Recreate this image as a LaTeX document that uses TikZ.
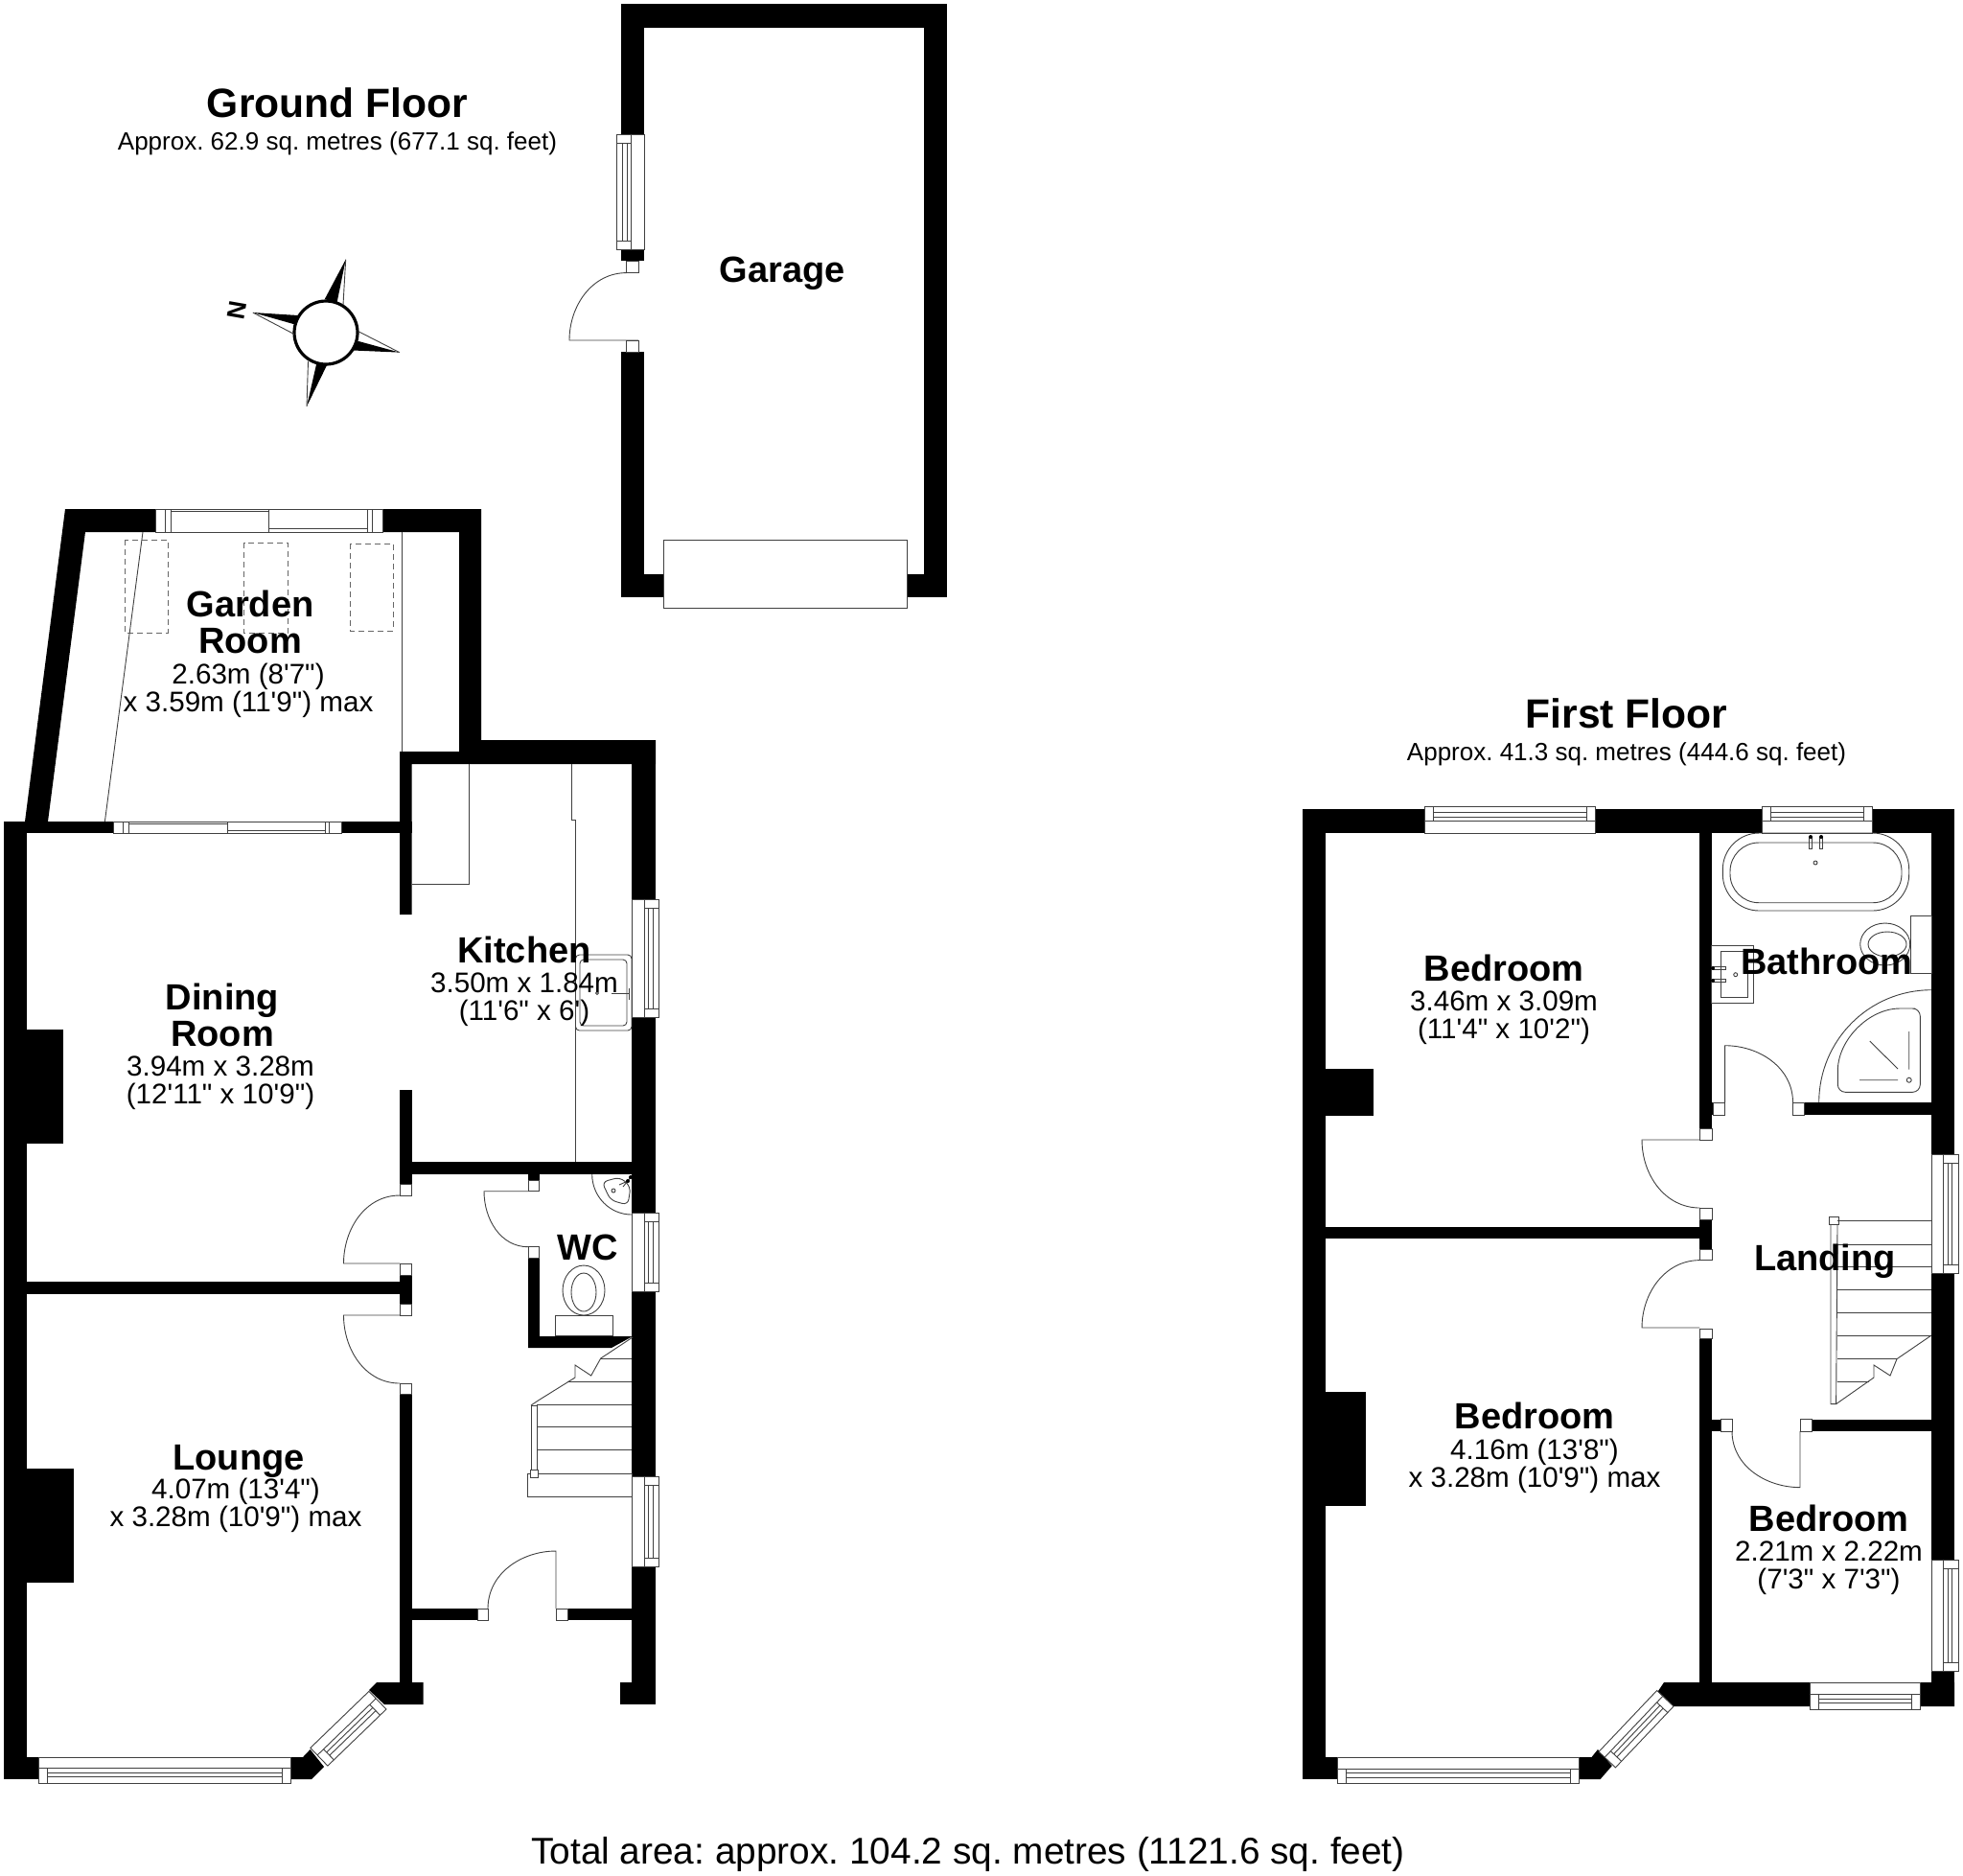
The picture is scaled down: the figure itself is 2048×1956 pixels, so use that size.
\documentclass[tikz,border=0pt]{standalone}
\usepackage{fontspec}
\usepackage{tikz}
\usetikzlibrary{positioning}
\newfontfamily\planFont{Liberation Sans}
\newcommand{\winBox}[5]{%
  \begin{scope}[shift={(#1,#2)},rotate=#3]
    \pgfmathsetmacro{\barEnd}{#4-9}
    \draw[planLine,fill=white] (0,0) rectangle (#4,#5);
    \draw[planLine] (0,15.5) -- (#4,15.5);
    \draw[planLine] (9,0) -- (9,15.5) (\barEnd,0) -- (\barEnd,15.5);
    \draw[planLine] (9,6.5) -- (\barEnd,6.5) (9,11) -- (\barEnd,11);
  \end{scope}}
\begin{document}
\begin{tikzpicture}
      [x=0.5pt,y=-0.5pt,node distance=4.6pt,
       wallFill/.style={fill=black,draw=none},
       planLine/.style={draw=black!75,line width=0.45pt},
       frameBox/.style={planLine,fill=white},
       dashBox/.style={draw=black!60,line width=0.4pt,dashed,dash pattern=on 3pt off 2pt},
       floorTitle/.style={font=\planFont\fontsize{21.3}{24}\selectfont\bfseries,inner sep=0pt},
       floorNote/.style={font=\planFont\frenchspacing\fontsize{13}{14}\selectfont,inner sep=0pt,node distance=7pt},
       roomName/.style={font=\planFont\fontsize{19}{19}\selectfont\bfseries,align=center,inner sep=0pt},
       roomDim/.style={font=\planFont\fontsize{14.8}{14.5}\selectfont,align=center,inner sep=0pt,
         execute at begin node={\vphantom{(}}}]
      \useasboundingbox (0,0) rectangle (2048,1956);
      % garage
      \fill[wallFill] (647.5,4) rectangle (988,28.6);
      \fill[wallFill] (647.5,4) rectangle (672,140);
      \fill[wallFill] (647.5,260) rectangle (672,272.4);
      \fill[wallFill] (647.5,367) rectangle (672,623);
      \fill[wallFill] (964,4) rectangle (988,623);
      \fill[wallFill] (647.5,599) rectangle (692,623);
      \fill[wallFill] (946.5,599) rectangle (988,623);
      \draw[frameBox] (692,563) rectangle (946.5,634.5);
      \winBox{643.4}{260}{90}{120}{28.6}
      \draw[frameBox] (653.6,272.4) rectangle (666,284.6);
      \draw[frameBox] (653.6,355) rectangle (666,367);
      \draw[planLine] (653.6,284.6) to[out=180,in=90] (594,355) -- (666,355);
      % compass
      \draw[black,line width=1.6pt,fill=white] (340,347) circle (33);
      \fill[black] (360.7,270.7) -- (338.8,312) -- (351.5,316) -- cycle;
      \draw[planLine] (360.7,270.7) -- (358,318);
      \fill[black] (263.8,326) -- (311,329) -- (309.7,339) -- cycle;
      \draw[planLine] (263.8,326) -- (307,348.6);
      \fill[black] (416.8,367.6) -- (373.5,355.8) -- (368.5,365.5) -- cycle;
      \draw[planLine] (416.8,367.6) -- (374.5,346);
      \fill[black] (320,424) -- (330,380.2) -- (342,379) -- cycle;
      \draw[planLine] (320,424) -- (321.5,376.8);
      \node[font=\planFont\fontsize{13}{13}\selectfont\bfseries,inner sep=0pt,rotate=80] (northMark) at (247,324) {N};
      % ground floor walls
      \fill[wallFill] (68,531) -- (162,531) -- (162,555) -- (89,555) -- (50,857) -- (26,857) -- cycle;
      \fill[wallFill] (399,531) -- (502,531) -- (502,772) -- (684,772) -- (684,797) -- (429.5,797)
        -- (429.5,954) -- (417,954) -- (417,784) -- (479,784) -- (479,555) -- (399,555) -- cycle;
      \fill[wallFill] (659,772) rectangle (684,1778);
      \fill[wallFill] (647,1755) rectangle (684,1778);
      \fill[wallFill] (3.5,857) rectangle (118.3,869);
      \fill[wallFill] (356.3,857) rectangle (429.5,869);
      \fill[wallFill] (3.5,857) rectangle (28,1856);
      \fill[wallFill] (3.5,1833) rectangle (40,1856);
      \fill[wallFill] (28,1074) rectangle (66,1193);
      \fill[wallFill] (28,1532) rectangle (77,1651);
      \fill[wallFill] (417,1137) rectangle (429.5,1235);
      \fill[wallFill] (417,1212) rectangle (684,1225);
      \fill[wallFill] (28,1337) rectangle (429.5,1350);
      \fill[wallFill] (417,1330) rectangle (429.5,1360);
      \fill[wallFill] (417,1454) rectangle (429.5,1755);
      \fill[wallFill] (429.5,1678) rectangle (498,1690);
      \fill[wallFill] (592,1678) rectangle (659,1690);
      \fill[wallFill] (393,1755) -- (441.5,1755) -- (441.5,1778) -- (401,1778) -- (385,1763) -- cycle;
      \fill[wallFill] (303.5,1833) -- (316,1833) -- (323.6,1825) -- (338,1843) -- (325,1856) -- (303.5,1856) -- cycle;
      \fill[wallFill] (551,1225) rectangle (562.7,1231);
      \fill[wallFill] (551,1312) rectangle (562.7,1406);
      \fill[wallFill] (551,1394) -- (660,1394) -- (638,1406) -- (551,1406) -- cycle;
      % ground floor windows
      \winBox{687.5}{938}{-90}{123.5}{28.5}
      \winBox{687.5}{1265}{-90}{82}{28.5}
      \winBox{687.5}{1540}{-90}{94.5}{28.5}
      \winBox{303.5}{1860}{180}{263.5}{27}
      \winBox{403}{1783}{224}{85}{26}
      \draw[frameBox] (162,531) rectangle (399,555);
      \draw[planLine] (172,531) -- (172,555) (178,531) -- (178,555) (280.4,531) -- (280.4,555);
      \draw[planLine] (383,531) -- (383,555) (388.4,531) -- (388.4,555);
      \draw[planLine] (178,533) -- (280.4,533) (280.4,551) -- (383,551);
      \draw[frameBox] (118.3,857) rectangle (356.3,869);
      \draw[planLine] (128.6,857) -- (128.6,869) (134.8,857) -- (134.8,869) (237.5,857) -- (237.5,869);
      \draw[planLine] (339.3,857) -- (339.3,869) (343.8,857) -- (343.8,869);
      \draw[planLine] (134.8,859) -- (237.5,859) (237.5,866) -- (339.3,866);
      % ground floor doors
      \draw[frameBox] (417,1235) rectangle (429.5,1247);
      \draw[frameBox] (417,1318) rectangle (429.5,1330);
      \draw[frameBox] (417,1360) rectangle (429.5,1372);
      \draw[frameBox] (417,1443) rectangle (429.5,1454);
      \draw[frameBox] (498,1678) rectangle (509,1690);
      \draw[frameBox] (580,1678) rectangle (592,1690);
      \draw[frameBox] (551,1231) rectangle (562.7,1242.7);
      \draw[frameBox] (551,1300.7) rectangle (562.7,1312);
      \draw[planLine] (417,1247) to[out=180,in=90] (358.5,1318) -- (417,1318);
      \draw[planLine] (417,1443) to[out=180,in=270] (358.5,1372) -- (417,1372);
      \draw[planLine] (509,1678) to[out=90,in=180] (580,1618) -- (580,1678);
      \draw[planLine] (551,1300.7) to[out=180,in=270] (505,1242.7) -- (551,1242.7);
      % garden room and kitchen fittings
      \draw[dashBox] (130,563) rectangle (175,660);
      \draw[dashBox] (254.5,566) rectangle (300,660.6);
      \draw[dashBox] (365,567) rectangle (410,658);
      \draw[planLine] (149,555) -- (109.4,857);
      \draw[planLine] (419,555) -- (419,784);
      \draw[planLine] (489,797) -- (489,922) -- (429.5,922);
      \draw[planLine] (596,797) -- (596,855) -- (600.5,855) -- (600.5,1212);
      \draw[planLine,rounded corners=2pt] (600.5,996) rectangle (659,1075);
      \draw[planLine,rounded corners=2pt] (605,1001) rectangle (654,1070);
      \draw[planLine] (638,1036.5) -- (656,1036.5) (656,1031) -- (656,1043);
      \draw[planLine] (623,1036) circle (1.5);
      % wc fittings
      \draw[planLine] (617.7,1225) to[out=270,in=180] (659,1267);
      \draw[planLine,rounded corners=3pt] (628,1233) -- (647,1228) -- (658,1238) -- (655,1257) -- (637,1252) -- cycle;
      \draw[planLine] (650,1238) -- (658,1228) (646,1236) -- (655,1232);
      \fill[black] (658,1228) circle (2) (655,1232) circle (2);
      \draw[planLine] (640,1242) circle (2);
      \draw[planLine] (609,1346) ellipse (22 and 26);
      \draw[planLine] (609,1348) ellipse (13 and 20);
      \draw[frameBox] (579,1372) rectangle (639,1393);
      % ground floor stairs
      \draw[planLine] (660,1395) -- (626.7,1417) -- (616.7,1435) -- (600,1424) -- (600,1437) -- (563,1460) -- (554,1466);
      \draw[planLine] (626.7,1417) -- (659,1417) (591.7,1441) -- (659,1441);
      \foreach \treadY in {1465,1488,1512.6} {
        \draw[planLine] (560,\treadY) -- (659,\treadY);
      }
      \draw[planLine] (554,1466) rectangle (560,1533);
      \draw[planLine] (550,1537) rectangle (659,1561);
      \draw[frameBox] (553,1533) rectangle (561,1541);
      % first floor walls
      \fill[wallFill] (1359,844) rectangle (2039,869);
      \fill[wallFill] (1359,844) rectangle (1383.3,1856);
      \fill[wallFill] (2015,844) rectangle (2039,1780);
      \fill[wallFill] (1736,1755) -- (2039,1755) -- (2039,1780) -- (1746.3,1780) -- (1729,1765.4) -- cycle;
      \fill[wallFill] (1773.4,869) rectangle (1786,1177);
      \fill[wallFill] (1773.4,1150) rectangle (1787,1163);
      \fill[wallFill] (1773.4,1272) rectangle (1786,1303);
      \fill[wallFill] (1773.4,1396) rectangle (1786,1755);
      \fill[wallFill] (1882.7,1150) rectangle (2015,1163);
      \fill[wallFill] (1383,1280) rectangle (1786,1292);
      \fill[wallFill] (1383,1114.6) rectangle (1432.5,1164);
      \fill[wallFill] (1383,1451.7) rectangle (1425,1571);
      \fill[wallFill] (1786,1480.5) rectangle (1795,1493);
      \fill[wallFill] (1890,1480.5) rectangle (2015,1493);
      \fill[wallFill] (1359,1833) rectangle (1395,1856);
      \fill[wallFill] (1647,1833) -- (1660.5,1833) -- (1667,1825) -- (1681.8,1842) -- (1669.6,1856) -- (1647,1856) -- cycle;
      % first floor windows
      \winBox{1486}{841}{0}{178}{28}
      \winBox{1838.4}{841}{0}{114.6}{28}
      \winBox{2043}{1204}{-90}{124}{28}
      \winBox{2043}{1627}{-90}{116}{28}
      \winBox{2003.6}{1783}{180}{115}{28}
      \winBox{1647}{1860.5}{180}{252}{27.5}
      \winBox{1746}{1780}{226.5}{88}{24}
      % first floor doors
      \draw[frameBox] (1787,1150) rectangle (1799.6,1163);
      \draw[frameBox] (1870.5,1150) rectangle (1882.7,1163);
      \draw[frameBox] (1773.4,1177) rectangle (1786,1189);
      \draw[frameBox] (1773.4,1260) rectangle (1786,1272);
      \draw[frameBox] (1773.4,1303) rectangle (1786,1314.6);
      \draw[frameBox] (1773.4,1386) rectangle (1786,1396);
      \draw[frameBox] (1795,1480.5) rectangle (1807,1493);
      \draw[frameBox] (1878,1480.5) rectangle (1890,1493);
      \draw[planLine] (1773.4,1260) to[out=180,in=270] (1713,1189) -- (1773.4,1189);
      \draw[planLine] (1773.4,1314.6) to[out=180,in=90] (1713,1385) -- (1773.4,1385);
      \draw[planLine] (1870.5,1150) to[out=90,in=0] (1799.6,1090.7) -- (1799.6,1150);
      \draw[planLine] (1807,1493) to[out=270,in=180] (1878,1551.6) -- (1878,1493);
      % bathroom fittings
      \draw[planLine,rounded corners=19pt] (1797.3,869) rectangle (1991.7,950);
      \draw[planLine,rounded corners=15pt] (1805,879) rectangle (1984,941.7);
      \draw[planLine] (1887.5,873) rectangle (1890.5,885.7) (1898.5,873) rectangle (1901.5,885.7);
      \fill[black] (1889,873) circle (2) (1900,873) circle (2);
      \draw[planLine] (1894,900) circle (2);
      \draw[planLine] (1993.3,955.3) rectangle (2015,1015);
      \draw[planLine] (1966.7,985) ellipse (26 and 22);
      \draw[planLine] (1969,985) ellipse (20 and 13);
      \draw[planLine] (1785.7,986.7) rectangle (1829,1046);
      \draw[planLine] (1795.7,992.7) rectangle (1823,1040);
      \draw[planLine] (1787,1008.5) rectangle (1800.7,1011.5) (1787,1021.5) rectangle (1800.7,1024.5);
      \fill[black] (1787,1010) circle (2) (1787,1023) circle (2);
      \draw[planLine] (1810.7,1016.7) circle (2);
      \draw[planLine] (1897.7,1150) to[out=90,in=180] (2015,1032.7);
      \draw[planLine,rounded corners=4pt] (1917.3,1139.3) -- (2003.3,1139.3) -- (2003.3,1052) -- (1990,1052)
        to[out=180,in=90] (1917.3,1125) -- cycle;
      \draw[planLine] (1991.7,1076) -- (1991.7,1115.7) (1940,1126.7) -- (1980,1126.7) (1950.7,1086) -- (1980,1115);
      \draw[planLine] (1991.7,1126.7) circle (2.5);
      % first floor stairs
      \draw[frameBox] (1908,1269) rectangle (1918,1277);
      \draw[planLine] (1910,1277) -- (1910,1464.6) -- (1915.6,1464.6) -- (1917,1277);
      \foreach \treadY in {1273.6,1298,1321.5,1345,1369,1393} {
        \draw[planLine] (1917,\treadY) -- (2015,\treadY);
      }
      \draw[planLine] (1917,1417) -- (1979,1417) (1917,1441) -- (1950,1441);
      \draw[planLine] (2015,1393) -- (1979,1417.6) -- (1972,1435) -- (1955,1424) -- (1955,1437) -- (1915.6,1464.6);
      % labels
      \node[floorTitle] (groundTitle) at (352,107) {Ground Floor};
      \node[floorNote] (groundNote) [below=of groundTitle] {Approx. 62.9 sq. metres (677.1 sq. feet)};
      \node[roomName] (garageName) at (816,285) {Garage};
      \node[roomName] (gardenName) at (261,649) {Garden\\Room};
      \node[roomDim,xshift=-1pt] (gardenDim) [below=of gardenName] {2.63m (8'7")\\x 3.59m (11'9") max};
      \node[roomName] (diningName) at (232,1059) {Dining\\Room};
      \node[roomDim,xshift=-1pt] (diningDim) [below=of diningName] {3.94m x 3.28m\\(12'11" x 10'9")};
      \node[roomName] (kitchenName) at (547,991) {Kitchen};
      \node[roomDim] (kitchenDim) [below=of kitchenName] {3.50m x 1.84m\\(11'6" x 6')};
      \node[roomName] (loungeName) at (249,1524) {Lounge};
      \node[roomDim,node distance=0pt,xshift=-1.5pt] (loungeDim) [below=of loungeName] {4.07m (13'4")\\x 3.28m (10'9") max};
      \node[roomName] (wcName) at (613,1301) {WC};
      \node[floorTitle] (firstTitle) at (1697,744) {First Floor};
      \node[floorNote] (firstNote) [below=of firstTitle] {Approx. 41.3 sq. metres (444.6 sq. feet)};
      \node[roomName] (frontBedName) at (1569,1010) {Bedroom};
      \node[roomDim] (frontBedDim) [below=of frontBedName] {3.46m x 3.09m\\(11'4" x 10'2")};
      \node[roomName] (bathName) at (1906,1003) {Bathroom};
      \node[roomName] (landingName) at (1904,1316) {Landing};
      \node[roomName] (rearBedName) at (1601,1477) {Bedroom};
      \node[roomDim] (rearBedDim) [below=of rearBedName] {4.16m (13'8")\\x 3.28m (10'9") max};
      \node[roomName] (smallBedName) at (1908,1584) {Bedroom};
      \node[roomDim] (smallBedDim) [below=of smallBedName] {2.21m x 2.22m\\(7'3" x 7'3")};
      \node[font=\planFont\frenchspacing\fontsize{19.4}{21}\selectfont,inner sep=0pt] (totalArea) at (1010,1934) {Total area: approx. 104.2 sq. metres (1121.6 sq. feet)};
    \end{tikzpicture}
\end{document}
